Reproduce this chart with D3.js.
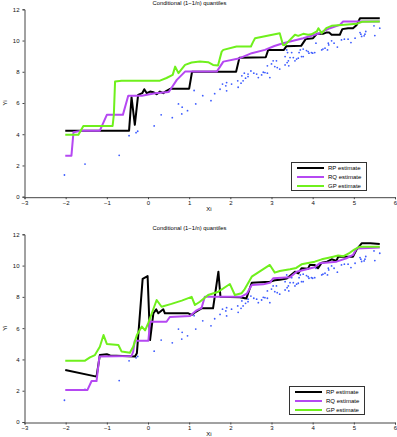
<!DOCTYPE html>
<html>
<head>
<meta charset="utf-8">
<script src="https://cdnjs.cloudflare.com/ajax/libs/d3/7.8.5/d3.min.js"></script>
<style>
  body { margin: 0; background: white; }
  text { font-family: "Liberation Sans", Arial, sans-serif; }
</style>
</head>
<body>
<svg width="397" height="437"></svg>
<script>
// observed points (Xi, Yi) - same in both panels
var points = [
  [-2.03,1.39],[-1.53,2.09],[-0.70,2.65],[-0.46,3.91],[-0.29,4.10],[-0.25,4.19],[0.15,4.53],[0.32,5.24],
  [0.59,5.06],[0.74,5.94],[0.83,5.73],[0.82,5.30],[0.96,5.51],[1.16,5.94],[1.12,6.80],[1.33,6.47],
  [1.53,6.15],[1.75,6.88],[1.81,7.21],[1.89,7.10],[1.91,7.31],[1.91,6.78],[2.03,7.21],[2.18,7.42],[2.19,7.01],
  [2.26,7.27],[2.28,7.74],[2.34,7.91],[2.31,7.42],[2.37,7.59],[2.43,7.85],[2.43,7.69],[2.57,7.91],
  [2.64,7.85],[2.68,7.63],[2.76,7.80],[2.84,7.95],[2.90,7.91],[2.96,7.63],[2.80,7.97],[2.90,8.38],
  [3.00,8.50],[3.08,8.33],[3.14,8.27],[3.04,8.70],[3.12,8.70],[3.20,8.17],[3.33,8.44],[3.38,8.59],
  [3.49,9.23],[3.39,9.23],[3.33,8.97],[3.53,8.91],[3.45,8.91],[3.41,8.70],[3.42,8.38],[3.57,8.70],
  [3.61,8.81],[3.65,8.87],[3.67,9.23],[3.73,8.97],[3.77,9.45],[3.77,8.97],[3.85,9.36],[3.91,9.19],
  [3.89,9.29],[3.97,9.23],[4.00,9.19],[4.08,9.83],[4.05,9.23],[4.22,9.40],[4.25,9.45],[4.30,9.51],
  [4.38,9.83],[4.39,9.72],[4.36,9.40],[4.46,9.98],[4.52,9.83],[4.60,9.58],[4.70,10.04],[4.77,10.09],
  [4.86,10.09],[4.93,9.87],[5.03,10.15],[5.15,10.51],[5.17,10.41],[5.25,10.30],[5.27,10.41],[5.49,10.94],
  [5.51,10.32],[5.63,10.79],[5.29,10.58],[5.19,10.26],[3.37,9.40],[3.70,9.40],[2.50,8.05],[1.62,6.60]
];

// top panel estimates
var rpTop = [[-2.01,4.23],[-0.46,4.23],[-0.40,6.37],[-0.32,4.6],[-0.24,6.52],[-0.14,6.63],[-0.09,6.88],[-0.03,6.63],
  [0.05,6.73],[0.13,6.69],[0.21,6.56],[0.29,6.73],[0.37,6.63],[0.45,6.78],[0.55,6.92],[1.0,6.92],[1.07,8.0],
  [2.14,8.0],[2.22,8.89],[2.86,8.93],[2.92,9.4],[3.3,9.4],[3.36,9.63],[3.72,9.66],[3.83,10.09],[4.01,10.15],
  [4.10,10.43],[4.25,10.43],[4.33,10.51],[4.40,10.51],[4.46,10.37],[4.66,10.37],[4.72,10.73],[4.86,10.79],
  [4.98,10.79],[5.07,11.0],[5.15,11.43],[5.63,11.43]];
var rqTop = [[-2.01,2.63],[-1.86,2.63],[-1.81,4.13],[-1.61,4.23],[-1.17,4.23],[-1.0,5.24],[-0.61,5.24],
  [-0.48,6.46],[-0.15,6.46],[0.17,6.63],[0.5,6.7],[0.55,6.88],[0.70,7.48],[0.90,8.01],[1.67,8.01],[1.83,8.65],
  [2.23,8.87],[2.52,9.19],[2.84,9.40],[3.07,9.65],[3.28,9.83],[3.77,10.15],[4.17,10.47],[4.42,10.79],
  [4.66,11.0],[4.74,11.22],[5.63,11.22]];
var gpTop = [[-2.01,3.96],[-1.69,3.96],[-1.57,4.53],[-0.86,4.53],[-0.83,5.24],[-0.80,7.37],[-0.64,7.43],
  [-0.2,7.43],[0.29,7.43],[0.45,7.6],[0.6,7.8],[0.66,8.33],[0.74,7.91],[0.90,8.44],[1.06,8.59],[1.26,8.65],
  [1.46,8.61],[1.58,8.44],[1.70,8.4],[1.79,9.29],[1.83,9.4],[2.15,9.62],[2.5,9.62],[2.55,9.9],[2.6,10.15],
  [3.2,10.47],[3.28,9.72],[3.33,9.72],[3.57,10.37],[3.65,10.3],[3.77,10.43],[3.89,10.37],[3.97,10.4],
  [4.10,10.58],[4.14,10.79],[4.22,10.47],[4.33,10.79],[4.46,10.94],[4.70,11.0],[5.07,11.07],[5.2,11.2],[5.63,11.22]];

// bottom panel estimates
var rpBot = [[-2.01,3.32],[-1.25,2.90],[-1.17,4.28],[-1.0,4.33],[-0.92,4.25],[-0.32,4.18],[-0.27,4.4],
  [-0.13,9.15],[-0.01,9.33],[0.05,5.24],[0.13,6.95],[0.2,7.2],[0.25,6.95],[0.37,7.21],[0.41,6.95],[0.98,6.95],
  [1.06,6.85],[1.14,7.0],[1.30,7.27],[1.58,7.27],[1.71,9.61],[1.76,8.01],[2.23,7.97],[2.39,7.9],[2.52,8.9],
  [2.96,8.97],[3.08,9.06],[3.2,9.1],[3.37,9.18],[3.57,9.61],[3.65,9.5],[3.73,9.83],[3.89,9.8],[3.93,10.04],
  [4.05,10.04],[4.13,9.83],[4.22,10.19],[4.35,10.25],[4.46,10.40],[4.58,10.3],[4.62,10.57],[4.98,10.57],
  [5.07,11.04],[5.19,11.42],[5.4,11.42],[5.63,11.38]];
var rqBot = [[-2.01,2.05],[-1.47,2.05],[-1.37,2.62],[-1.25,2.62],[-1.18,4.18],[-0.40,4.22],[-0.36,4.5],
  [-0.32,5.2],[0.01,5.2],[0.05,6.41],[0.45,6.41],[0.53,6.71],[1.02,6.77],[1.18,7.14],[1.30,7.29],[1.38,8.01],
  [2.27,8.01],[2.4,8.2],[2.52,8.76],[2.8,8.8],[2.96,8.9],[3.04,9.19],[3.45,9.25],[3.61,9.61],[4.05,9.89],
  [4.17,10.15],[4.58,10.25],[4.82,10.47],[4.98,10.68],[5.07,11.1],[5.63,11.16]];
var gpBot = [[-2.01,3.92],[-1.53,3.92],[-1.41,4.13],[-1.29,4.28],[-1.17,4.81],[-1.08,5.56],[-1.0,4.99],
  [-0.72,4.92],[-0.64,4.5],[-0.44,4.43],[-0.36,4.81],[-0.27,5.56],[-0.15,6.1],[-0.07,5.86],[0.01,6.35],
  [0.1,7.0],[0.21,7.8],[0.33,7.37],[0.57,7.55],[0.82,7.76],[1.06,8.0],[1.14,7.48],[1.26,7.69],[1.46,8.12],
  [1.71,8.33],[1.99,8.82],[2.11,8.12],[2.27,8.23],[2.35,8.5],[2.52,9.29],[2.96,10.04],[3.08,9.55],[3.2,9.65],
  [3.45,9.76],[3.6,9.85],[3.73,10.08],[4.05,10.25],[4.22,10.4],[4.5,10.57],[4.62,10.65],[4.75,10.6],
  [4.9,10.82],[5.02,11.04],[5.15,11.21],[5.63,11.21]];

var xTicks = [-3,-2,-1,0,1,2,3,4,5,6];
var yTicks = [0,2,4,6,8,10,12];
var seriesNames = ["RP estimate","RQ estimate","GP estimate"];
var seriesColors = ["#000000","#b548f2","#6ff01c"];
var title = "Conditional (1\u22121/n) quantiles";

var svg = d3.select("svg");
var x = d3.scaleLinear().domain([-3,6]).range([24.5,395]);

function panel(top, bottom, lines, legX, legY) {
  var y = d3.scaleLinear().domain([0,12]).range([bottom, top]);
  var g = svg.append("g");

  var yAxis = g.append("g").attr("transform","translate(24.5,0)")
    .call(d3.axisLeft(y).tickValues(yTicks).tickSize(2).tickPadding(3));
  var xAxis = g.append("g").attr("transform","translate(0," + (bottom + 0.5) + ")")
    .call(d3.axisBottom(x).tickValues(xTicks).tickSize(2).tickPadding(1.5)
      .tickFormat(function(d){ return d < 0 ? "\u2212" + (-d) : d; }));
  [yAxis, xAxis].forEach(function(a) {
    a.select(".domain").attr("stroke","#444");
    a.selectAll(".tick line").attr("stroke","#444");
    a.selectAll("text").style("font-size","6px").attr("fill","#111");
  });
  yAxis.selectAll(".tick text").text(function(d){ return d; });

  g.append("text").attr("x",189.5).attr("y",top - 4.5).attr("text-anchor","middle")
    .style("font-size","5.8px").text(title);
  g.append("text").attr("x",209).attr("y",bottom + 14).attr("text-anchor","middle")
    .style("font-size","6px").text("Xi");
  g.append("text").attr("transform","translate(7," + ((top+bottom)/2) + ") rotate(-90)")
    .attr("text-anchor","middle").style("font-size","6px").text("Yi");

  g.append("g").selectAll("circle").data(points).enter().append("circle")
    .attr("cx", function(d){ return x(d[0]); })
    .attr("cy", function(d){ return y(d[1]); })
    .attr("r", 0.9).attr("fill","#3d5cff");

  var line = d3.line().x(function(d){ return x(d[0]); }).y(function(d){ return y(d[1]); });
  lines.forEach(function(l, i) {
    g.append("path").datum(l).attr("d", line).attr("fill","none")
      .attr("stroke", seriesColors[i]).attr("stroke-width", 2).attr("stroke-linejoin","round");
  });

  var leg = g.append("g").attr("transform","translate(" + legX + "," + legY + ")");
  leg.append("rect").attr("x",0.5).attr("y",0.5).attr("width",75).attr("height",28)
    .attr("fill","white").attr("stroke","#333").attr("stroke-width",1);
  seriesNames.forEach(function(n, i) {
    leg.append("line").attr("x1",6).attr("x2",33).attr("y1",6 + i*9).attr("y2",6 + i*9)
      .attr("stroke", seriesColors[i]).attr("stroke-width",2);
    leg.append("text").attr("x",37).attr("y",8 + i*9).style("font-size","6px").text(n);
  });
}

panel(9.3, 196.7, [rpTop, rqTop, gpTop], 291, 162);
panel(234.3, 422, [rpBot, rqBot, gpBot], 289, 386);
</script>
</body>
</html>
